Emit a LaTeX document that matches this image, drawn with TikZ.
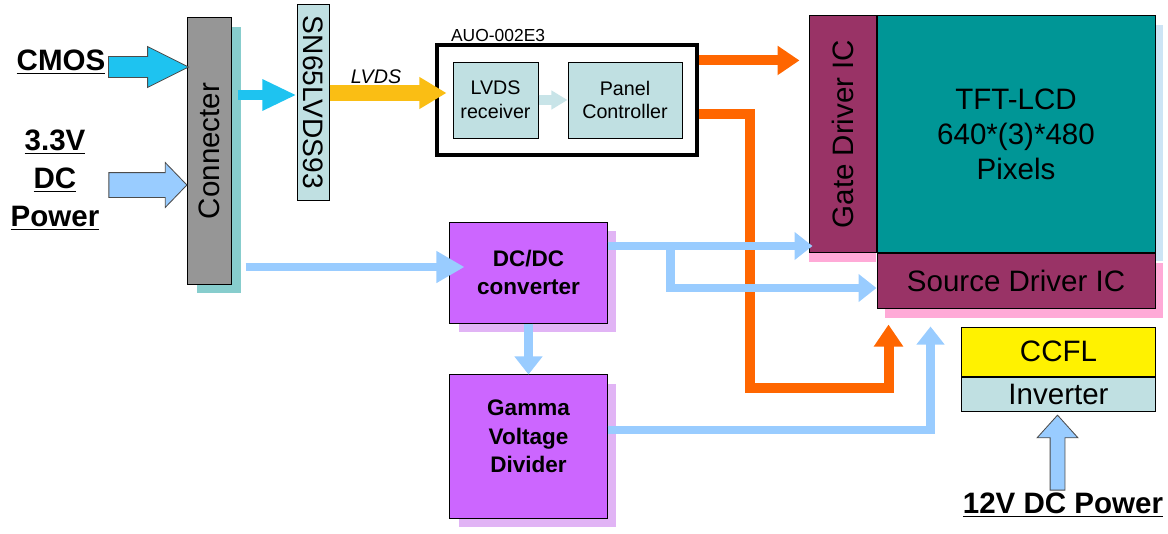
\documentclass[tikz,border=0pt]{standalone}
\usepackage{fontspec}
\setmainfont{Liberation Sans}
\usetikzlibrary{shapes.arrows, arrows.meta, positioning, calc, shadows}

\definecolor{cmoscyan}{RGB}{30,195,240}
\definecolor{pwrblue}{RGB}{153,204,255}
\definecolor{conngray}{RGB}{150,150,150}
\definecolor{connshade}{RGB}{135,205,205}
\definecolor{chipfill}{RGB}{192,224,226}
\definecolor{lvdsyellow}{RGB}{250,190,20}
\definecolor{ctrlorange}{RGB}{255,102,0}
\definecolor{drvmaroon}{RGB}{153,51,102}
\definecolor{lcdteal}{RGB}{0,150,150}
\definecolor{drvshade}{RGB}{255,170,215}
\definecolor{lcdshade}{RGB}{205,228,245}
\definecolor{pwrviolet}{RGB}{204,102,255}
\definecolor{violetshade}{RGB}{225,180,245}
\definecolor{palecyan}{RGB}{200,228,232}

\begin{document}
\begin{tikzpicture}[
  x=0.025cm, y=-0.025cm,
  pwrtag/.style={font=\bfseries\fontsize{21}{25}\selectfont, align=center, inner sep=1pt},
  chip/.style={draw=black, line width=0.7pt, inner sep=0pt, align=center, font=\fontsize{21}{25}\selectfont},
  minichip/.style={chip, fill=chipfill, font=\fontsize{14}{17}\selectfont},
  pwrbox/.style={chip, fill=pwrviolet, font=\bfseries\fontsize{16}{20.5}\selectfont,
    drop shadow={shadow xshift=0.225cm, shadow yshift=-0.225cm, fill=violetshade, opacity=1}},
  fatarrow/.style={single arrow, draw=black!70, line width=0.6pt, inner xsep=0pt, anchor=tip},
  cyanflow/.style={draw=cmoscyan, line width=0.25cm, -{Triangle[length=0.85cm, width=0.725cm]}},
  lvdsflow/.style={draw=lvdsyellow, line width=0.4cm, -{Triangle[length=0.675cm, width=0.75cm]}},
  ctrlflow/.style={draw=ctrlorange, line width=0.25cm, -{Triangle[length=0.55cm, width=0.7cm]}},
  pwrflow/.style={draw=pwrblue, line width=0.22cm, -{Triangle[length=0.45cm, width=0.675cm]}}
]
  \useasboundingbox (0,0) rectangle (1168,533);

  % inputs
  \node[pwrtag] (cmos) at (61,62) {\underline{CMOS}};
  \node[pwrtag] (dcin) at (55,180) {\underline{3.3V}\\[2pt]\underline{DC}\\[2pt]\underline{Power}};
  \node[pwrtag] (blpwr) at (1063,505) {\underline{12V DC Power}};

  % connector and serializer
  \node[chip, fill=conngray, minimum width=1.1cm, minimum height=6.65cm,
    drop shadow={shadow xshift=0.25cm, shadow yshift=-0.225cm, fill=connshade, opacity=1}] (conn) at (209,151) {\rotatebox{90}{Connecter}};
  \node[chip, fill=chipfill, minimum width=0.8cm, minimum height=4.875cm, font=\fontsize{20}{24}\selectfont] (ser) at (313,102.5) {\rotatebox{-90}{SN65LVDS93}};

  % timing controller
  \node[draw=black, line width=2.2pt, fill=white, minimum width=6.5cm, minimum height=2.75cm] (auo) at (567,100) {};
  \node[above right=0pt and 0.35cm of auo.north west, inner sep=1pt, font=\fontsize{12.4}{15}\selectfont] (auotag) {AUO-002E3};
  \node[minichip, minimum width=2.125cm, minimum height=1.9cm] (rx) at (495.5,100) {LVDS\\receiver};
  \node[minichip, minimum width=2.85cm, minimum height=1.9cm] (pc) at (625,100) {Panel\\Controller};

  % panel
  \node[chip, fill=drvmaroon, minimum width=1.675cm, minimum height=5.9cm,
    drop shadow={shadow xshift=0cm, shadow yshift=-0.25cm, fill=drvshade, opacity=1}] (gate) at (842.5,134) {\rotatebox{90}{Gate Driver IC}};
  \node[chip, fill=lcdteal, minimum width=6.95cm, minimum height=5.9cm, right=0pt of gate,
    drop shadow={shadow xshift=0.2cm, shadow yshift=-0.225cm, fill=lcdshade, opacity=1}] (lcd) {TFT-LCD\\640*(3)*480\\Pixels};
  \node[chip, fill=drvmaroon, minimum width=6.95cm, minimum height=1.375cm, below=0pt of lcd,
    drop shadow={shadow xshift=0.2cm, shadow yshift=-0.25cm, fill=drvshade, opacity=1}] (src) {Source Driver IC};

  % power
  \node[pwrbox, minimum width=3.925cm, minimum height=2.525cm] (dcdc) at (528.5,272.5) {DC/DC\\converter};
  \node[pwrbox, minimum width=3.925cm, minimum height=3.575cm] (gamma) at (528.5,446.5) {Gamma\\Voltage\\Divider\\[-6pt]\mbox{}};

  % backlight
  \node[chip, fill=yellow, minimum width=4.825cm, minimum height=1.225cm] (ccfl) at (1058.5,351.5) {CCFL};
  \node[chip, fill=chipfill, minimum width=4.825cm, minimum height=0.85cm, below=0pt of ccfl] (inv) {Inverter};

  % fat input arrows
  \node[fatarrow, fill=cmoscyan, minimum height=2cm, inner ysep=0.25cm,
    single arrow head extend=0.25cm, single arrow tip angle=53] (cmosin) at ($(conn.west |- cmos)+(3,5)$) {};
  \node[fatarrow, fill=pwrblue, minimum height=1.95cm, inner ysep=0.3cm,
    single arrow head extend=0.25cm, single arrow tip angle=92] (dcinarr) at ($(conn.west |- dcin)+(1,5)$) {};
  \node[fatarrow, fill=pwrblue, rotate=90, minimum height=1.875cm, inner ysep=0.175cm,
    single arrow head extend=0.325cm, single arrow tip angle=84] (blarr) at ($(inv.south)+(-1,3)$) {};

  % signal path
  \draw[cyanflow] ($(conn.east |- ser.west)+(6,-7.5)$) -- ($(ser.west)+(0,-7.5)$);
  \draw[lvdsflow] ($(ser.east)+(0,-9.5)$) -- ($(rx.west |- ser.east)+(-6,-9.5)$);
  \node[font=\itshape\fontsize{14}{17}\selectfont] (lvdstag) at (376,77) {LVDS};
  \draw[draw=palecyan, line width=0.25cm, -{Triangle[length=0.4cm, width=0.45cm]}] (rx.east) -- (pc.west);
  \draw[ctrlflow] ($(auo.north east)+(0,17)$) -- ($(gate.west |- auo.north east)+(-9,17)$);
  \draw[ctrlflow] ($(auo.south east)+(0,-43)$) -| (750,388) -| ($(src.south west)+(12,16)$);

  % supply path
  \draw[pwrflow, -{Triangle[length=0.7cm, width=0.75cm]}] ($(conn.east |- dcdc)+(14,-5.5)$) -- ($(dcdc.west)+(15,-5.5)$);
  \draw[pwrflow] ($(dcdc.east)+(0,-26.5)$) -- ($(gate.west |- dcdc.east)+(4,-26.5)$);
  \draw[pwrflow] ($(dcdc.east)+(63,-26.5)$) |- ($(src.west)+(0,7.5)$);
  \draw[pwrflow] (dcdc.south) -- (gamma.north);
  \draw[pwrflow] ($(gamma.east)+(0,-16.5)$) -| ($(src.south west)+(54,18)$);
\end{tikzpicture}
\end{document}
